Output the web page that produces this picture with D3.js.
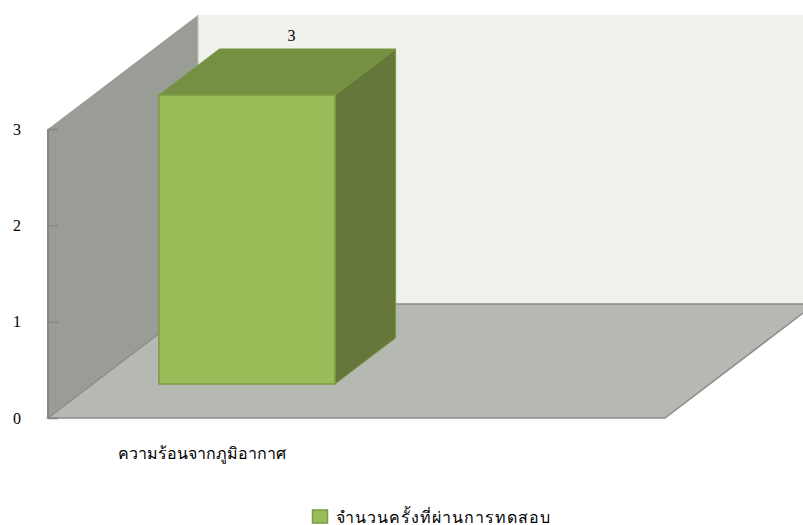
<!DOCTYPE html>
<html><head><meta charset="utf-8">
<script src="https://cdnjs.cloudflare.com/ajax/libs/d3/7.8.5/d3.min.js"></script>
<style>html,body{margin:0;padding:0;background:#fff}svg{display:block}
text{font-family:"Liberation Serif","Noto Sans",serif;fill:#000}</style></head>
<body><svg id="c" width="803" height="525"></svg>
<script>
const categories = ["ความร้อนจากภูมิอากาศ", " "];
const seriesName = "จำนวนครั้งที่ผ่านการทดสอบ";
const seriesValues = [3, null];
const yTicks = [0, 1, 2, 3];

const svg = d3.select("#c");
const x = d3.scaleBand().domain(categories).range([48, 665]).paddingInner(0).paddingOuter(0);
const y = d3.scaleLinear().domain([0, 3]).range([418, 129]);
// depth: 0 = front of the floor, 1 = back wall
const dx = d3.scaleLinear().domain([0, 1]).range([0, 150]);
const dy = d3.scaleLinear().domain([0, 1]).range([0, -114]);
const barZ = [0.298, 0.702];
const barFrac = 0.571;
const labelZ = 0.595;
const P = (px, v, z) => [px + dx(z), y(v) + dy(z)].join(",");
const poly = (pts, fill, stroke, sw) => svg.append("polygon").attr("points", pts.join(" "))
  .attr("fill", fill).attr("stroke", stroke || "none").attr("stroke-width", sw || 0).attr("stroke-linejoin", "round");

const xL = x.range()[0], xR = x.range()[1], yMax = y.domain()[1];

// back wall
poly([P(xL,0,1), P(xL,yMax,1), P(xR,yMax,1), P(xR,0,1)], "#EFF2EB");
// left wall
poly([P(xL,0,0), P(xL,yMax,0), P(xL,yMax,1), P(xL,0,1)], "#9A9D95");
// floor
poly([P(xL,0,0), P(xR,0,0), P(xR,0,1), P(xL,0,1)], "#B6B9B2");
svg.append("path").attr("fill","none").attr("stroke","#8C8C88").attr("stroke-width",1.5)
  .attr("d", `M${P(xL,0,1)}L${P(xR,0,1)}L${P(xR,0,0)}L${P(xL,0,0)}L${P(xL,0,1)}`);
svg.append("path").attr("fill","none").attr("stroke","#BFC2BA").attr("stroke-width",1)
  .attr("d", `M${P(xL,yMax,1)}L${P(xL,0,1)}`);

// axis
const axis = d3.axisLeft(y).tickValues(yTicks).tickFormat(d3.format("d")).tickSize(-10).tickPadding(27);
const ag = svg.append("g").attr("transform", `translate(${xL},0)`).call(axis);
ag.selectAll("path.domain").attr("stroke","#868686").attr("stroke-width",2).attr("d",`M0,${y(0)}V${y(yMax)}`);
ag.selectAll(".tick line").attr("stroke","#868686").attr("stroke-width",1.5);
ag.selectAll(".tick text").attr("font-size",16).attr("font-family","Liberation Serif").attr("fill","#000").attr("text-anchor","middle").attr("x",-31);

// bars
categories.forEach((c, i) => {
  const v = seriesValues[i];
  if (v == null) return;
  const w = x.bandwidth() * barFrac;
  const a = x(c) + (x.bandwidth() - w) / 2, b = a + w;
  const [z0, z1] = barZ;
  const st = "#7D9A45";
  poly([P(a,v,z0), P(b,v,z0), P(b,v,z1), P(a,v,z1)], "#758F43", st, 1);
  poly([P(b,0,z0), P(b,v,z0), P(b,v,z1), P(b,0,z1)], "#65773A", st, 1);
  poly([P(a,0,z0), P(b,0,z0), P(b,v,z0), P(a,v,z0)], "#9BBB59", "#7D9A45", 1.5);
  svg.append("text").attr("x", (a+b)/2 + dx(labelZ)).attr("y", y(v) + dy(z1) - 8)
    .attr("text-anchor","middle").attr("font-size",16).text(v);
});

// category labels
svg.append("g").selectAll("text").data(categories).join("text")
  .attr("x", d => x(d) + x.bandwidth()/2).attr("y", 459)
  .attr("text-anchor","middle").attr("font-size",16).text(d => d);

// legend
svg.append("rect").attr("x",312.5).attr("y",510).attr("width",15).attr("height",13)
  .attr("fill","#9BBB59").attr("stroke","#7D9A45").attr("stroke-width",1.5);
svg.append("text").attr("x",336).attr("y",523).attr("font-size",16).attr("textLength",214).text(seriesName);
</script></body></html>
